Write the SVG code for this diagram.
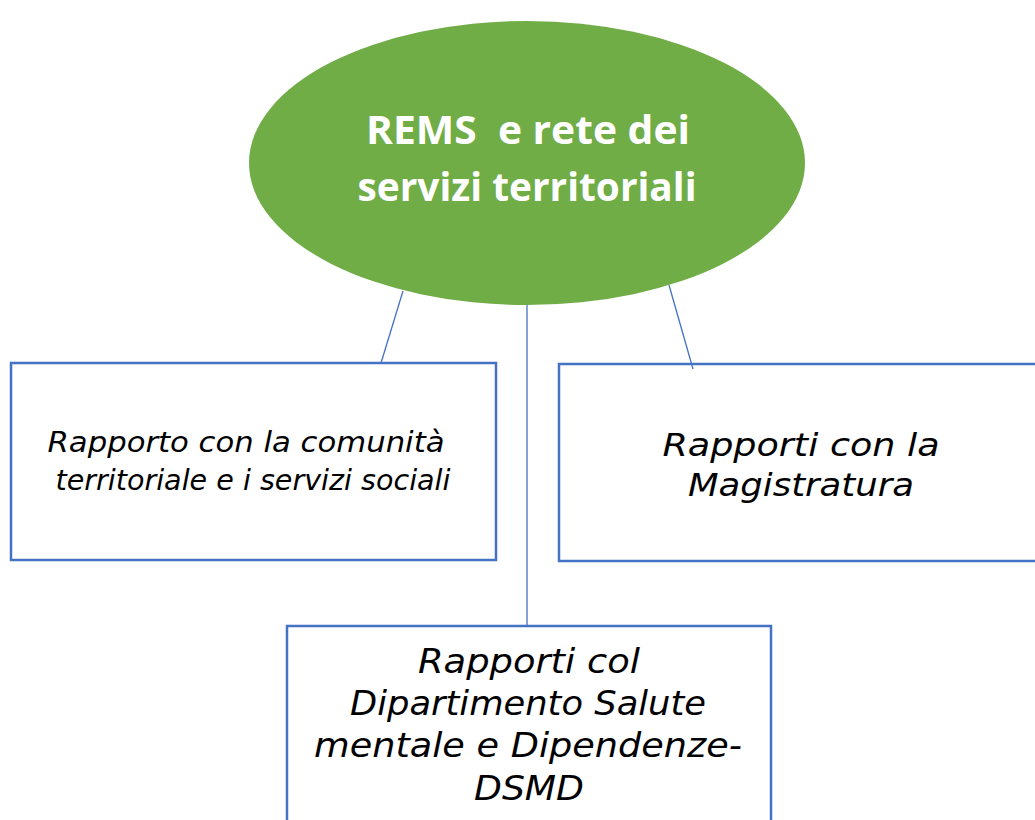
<svg xmlns="http://www.w3.org/2000/svg" width="1035" height="820" viewBox="0 0 1035 820">
<style>
.box{fill:#fff;stroke:#4472C4;stroke-width:2.5}
.lbl{font-family:"DejaVu Sans","Liberation Sans",sans-serif;font-style:italic;fill:#000;text-anchor:middle}
.title{font-family:"Open Sans","Liberation Sans",sans-serif;font-weight:bold;fill:#fff;text-anchor:middle;font-size:39px;white-space:pre}
.conn{stroke:#4472C4;stroke-width:1.3;fill:none}
</style>
<rect width="1035" height="820" fill="#fff"/>
<g id="center">
<ellipse cx="527" cy="163" rx="278" ry="142" fill="#70AD47"/>
<text class="title" x="528" y="144" xml:space="preserve" textLength="324" lengthAdjust="spacingAndGlyphs">REMS  e rete dei</text>
<text class="title" x="527" y="201" textLength="339" lengthAdjust="spacingAndGlyphs">servizi territoriali</text>
</g>
<g id="left">
<rect class="box" x="11" y="363" width="485" height="197"/>
<text class="lbl" font-size="28" x="246" y="452" textLength="397" lengthAdjust="spacingAndGlyphs">Rapporto con la comunità</text>
<text class="lbl" font-size="28" x="253" y="490" textLength="395" lengthAdjust="spacingAndGlyphs">territoriale e i servizi sociali</text>
</g>
<g id="right">
<rect class="box" x="559" y="364" width="490" height="197"/>
<text class="lbl" font-size="32" x="801" y="456" textLength="277" lengthAdjust="spacingAndGlyphs">Rapporti con la</text>
<text class="lbl" font-size="32" x="801" y="496" textLength="226" lengthAdjust="spacingAndGlyphs">Magistratura</text>
</g>
<g id="bottom">
<rect class="box" x="287" y="626" width="484" height="210"/>
<text class="lbl" font-size="33" x="529" y="673" textLength="222" lengthAdjust="spacingAndGlyphs">Rapporti col</text>
<text class="lbl" font-size="33" x="528" y="715" textLength="356" lengthAdjust="spacingAndGlyphs">Dipartimento Salute</text>
<text class="lbl" font-size="33" x="528" y="757" textLength="428" lengthAdjust="spacingAndGlyphs">mentale e Dipendenze-</text>
<text class="lbl" font-size="33" x="529" y="800" textLength="110" lengthAdjust="spacingAndGlyphs">DSMD</text>
</g>
<g id="connectors">
<line class="conn" x1="403" y1="291" x2="381" y2="363"/>
<line class="conn" x1="527" y1="305" x2="527" y2="626"/>
<line class="conn" x1="669" y1="285" x2="693" y2="369"/>
</g>
</svg>
